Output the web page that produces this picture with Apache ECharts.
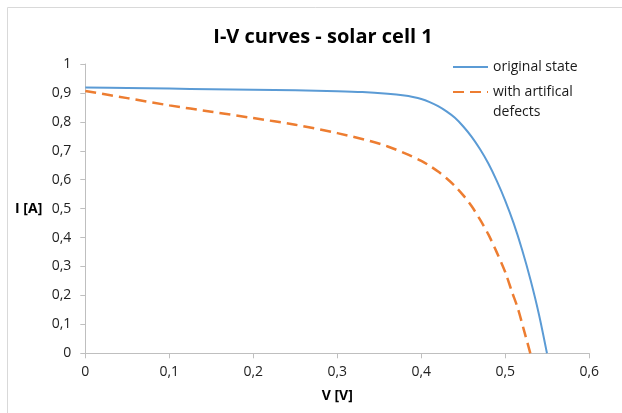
<!DOCTYPE html>
<html>
<head>
<meta charset="utf-8">
<script src="https://cdn.jsdelivr.net/npm/echarts@6/dist/echarts.min.js"></script>
<style>
  html, body { margin: 0; padding: 0; background: #fff; }
  #chart { width: 622px; height: 413px; }
</style>
</head>
<body>
<div id="chart"></div>
<script>
// I-V kurven, werte
var voltOriginal = [0, 0.05, 0.1, 0.15, 0.2, 0.25, 0.3, 0.33, 0.36, 0.38, 0.39, 0.4, 0.41, 0.42, 0.43, 0.44, 0.45, 0.46, 0.47, 0.48, 0.49, 0.5, 0.51, 0.52, 0.53, 0.54, 0.5496];
var currOriginal = [0.919, 0.917, 0.915, 0.913, 0.911, 0.909, 0.906, 0.903, 0.897, 0.891, 0.886, 0.879, 0.868, 0.854, 0.836, 0.814, 0.784, 0.748, 0.705, 0.655, 0.595, 0.527, 0.449, 0.358, 0.254, 0.135, 0];

var voltDefects = [0, 0.05, 0.1, 0.15, 0.2, 0.25, 0.3, 0.34, 0.36, 0.38, 0.4, 0.41, 0.42, 0.43, 0.44, 0.45, 0.46, 0.47, 0.48, 0.49, 0.5, 0.508, 0.515, 0.522, 0.5298];
var currDefects = [0.907, 0.882, 0.857, 0.835, 0.813, 0.79, 0.761, 0.733, 0.715, 0.692, 0.665, 0.648, 0.628, 0.605, 0.578, 0.546, 0.508, 0.462, 0.41, 0.348, 0.28, 0.212, 0.155, 0.082, 0];

var seriesNames = ['original state', 'with artifical\ndefects'];
var xTicks = [0, 0.1, 0.2, 0.3, 0.4, 0.5, 0.6];
var yTicks = [0, 0.1, 0.2, 0.3, 0.4, 0.5, 0.6, 0.7, 0.8, 0.9, 1];

function pairs(xs, ys) {
    return xs.map(function (x, i) { return [x, ys[i]]; });
}

// komma als dezimaltrenner
function fmt(v) {
    return String(Math.round(v * 10) / 10).replace('.', ',');
}

var font = 'Open Sans';
var legendText = { fontFamily: font, fontSize: 14, color: '#1a1a1a', lineHeight: 20 };
var myChart = echarts.init(document.getElementById('chart'), null, { renderer: 'canvas' });

myChart.setOption({
    animation: false,
    textStyle: { fontFamily: font },
    title: {
        text: 'I-V curves - solar cell 1',
        left: 318,
        textAlign: 'center',
        top: 22,
        textStyle: { fontFamily: font, fontSize: 20, fontWeight: 'bold', color: '#000' }
    },
    legend: [{
        data: [seriesNames[0]],
        left: 452,
        top: 57,
        padding: 0,
        itemWidth: 35,
        itemHeight: 14,
        itemStyle: { opacity: 0 },
        textStyle: legendText
    }, {
        data: [seriesNames[1]],
        left: 452,
        top: 62,
        padding: 0,
        itemWidth: 35,
        itemHeight: 14,
        itemStyle: { opacity: 0 },
        // leere erste zeile, damit die linie auf hoehe der ersten textzeile sitzt
        formatter: function (name) { return '\n' + name; },
        textStyle: legendText
    }],
    graphic: [{
        type: 'rect',
        shape: { x: 7.5, y: 7.5, width: 700, height: 500 },
        style: { fill: 'none', stroke: '#d9d9d9', lineWidth: 1 },
        silent: true
    }],
    grid: { left: 85.3, right: 32.7, top: 64, bottom: 59.7, containLabel: false },
    xAxis: {
        type: 'value',
        min: xTicks[0],
        max: xTicks[xTicks.length - 1],
        interval: 0.1,
        name: 'V [V]',
        nameLocation: 'middle',
        nameGap: 36,
        nameTextStyle: { fontFamily: font, fontSize: 14, fontWeight: 'bold', color: '#000' },
        axisLine: { show: true, lineStyle: { color: '#bfbfbf', width: 1 } },
        axisTick: { show: true, length: 5, lineStyle: { color: '#bfbfbf' } },
        axisLabel: { margin: 12, fontSize: 14, color: '#222', formatter: fmt },
        splitLine: { show: false }
    },
    yAxis: {
        type: 'value',
        min: yTicks[0],
        max: yTicks[yTicks.length - 1],
        interval: 0.1,
        name: 'I [A]',
        nameLocation: 'middle',
        nameRotate: 0,
        nameGap: 43,
        nameTextStyle: { fontFamily: font, fontSize: 14, fontWeight: 'bold', color: '#000' },
        axisLine: { show: true, lineStyle: { color: '#bfbfbf', width: 1 } },
        axisTick: { show: true, length: 5, lineStyle: { color: '#bfbfbf' } },
        axisLabel: { margin: 14, fontSize: 14, color: '#222', formatter: fmt },
        splitLine: { show: false }
    },
    series: [{
        name: seriesNames[0],
        type: 'line',
        smooth: 0.3,
        symbol: 'none',
        color: '#5b9bd5',
        lineStyle: { color: '#5b9bd5', width: 2 },
        data: pairs(voltOriginal, currOriginal)
    }, {
        name: seriesNames[1],
        type: 'line',
        smooth: 0.3,
        symbol: 'none',
        color: '#ed7d31',
        lineStyle: { color: '#ed7d31', width: 2.5, type: [11, 6] },
        data: pairs(voltDefects, currDefects)
    }]
});
</script>
</body>
</html>
